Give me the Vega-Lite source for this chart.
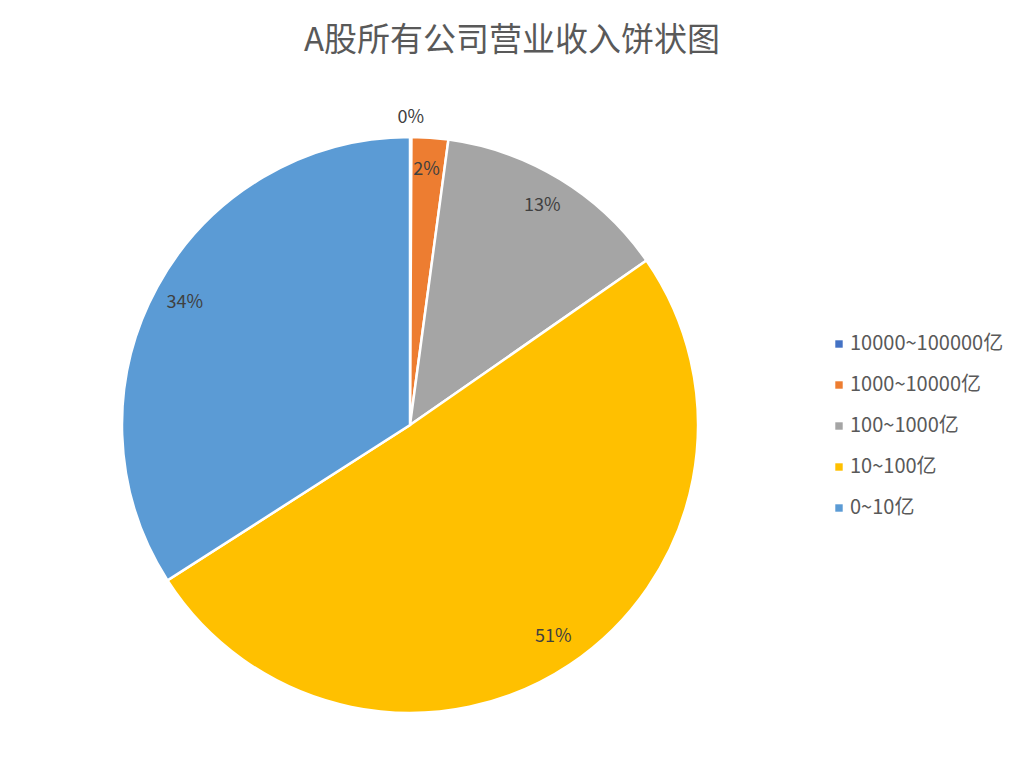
{
  "$schema": "https://vega.github.io/schema/vega-lite/v6.json",
  "width": 820,
  "height": 690,
  "autosize": {"type": "none"},
  "padding": {"left": 0, "top": 80, "right": 204, "bottom": 13},
  "background": "white",
  "title": {
    "text": "A股所有公司营业收入饼状图",
    "font": "Noto Sans CJK SC",
    "fontSize": 33,
    "fontWeight": "normal",
    "color": "#595959",
    "anchor": "middle",
    "dx": 102,
    "offset": 22
  },
  "data": {
    "values": [
      {"idx": 1, "range": "10000~100000亿", "share": 0.0008},
      {"idx": 2, "range": "1000~10000亿", "share": 0.0205},
      {"idx": 3, "range": "100~1000亿", "share": 0.1320},
      {"idx": 4, "range": "10~100亿", "share": 0.5060},
      {"idx": 5, "range": "0~10亿", "share": 0.3407}
    ]
  },
  "encoding": {
    "theta": {"field": "share", "type": "quantitative", "stack": true},
    "order": {"field": "idx", "type": "quantitative"}
  },
  "layer": [
    {
      "mark": {"type": "arc", "outerRadius": 288, "stroke": "white", "strokeWidth": 2.5},
      "encoding": {
        "color": {
          "field": "range",
          "type": "nominal",
          "scale": {
            "domain": ["10000~100000亿", "1000~10000亿", "100~1000亿", "10~100亿", "0~10亿"],
            "range": ["#4472C4", "#ED7D31", "#A5A5A5", "#FFC000", "#5B9BD5"]
          },
          "legend": {
            "title": null,
            "orient": "none",
            "legendX": 829,
            "legendY": 254,
            "symbolType": "square",
            "symbolSize": 55,
            "symbolStrokeWidth": 0,
            "labelFont": "Noto Sans CJK SC",
            "labelFontSize": 20,
            "labelColor": "#595959",
            "rowPadding": 21,
            "labelOffset": 1
          }
        }
      }
    },
    {
      "transform": [{"filter": "datum.idx > 1"}],
      "mark": {"type": "text", "radius": 256, "font": "Noto Sans CJK SC", "fontSize": 18, "color": "#404040"},
      "encoding": {
        "text": {"field": "share", "type": "quantitative", "format": ".0%"}
      }
    },
    {
      "transform": [{"filter": "datum.idx == 1"}],
      "mark": {"type": "text", "radius": 307, "font": "Noto Sans CJK SC", "fontSize": 18, "color": "#404040"},
      "encoding": {
        "text": {"field": "share", "type": "quantitative", "format": ".0%"}
      }
    }
  ]
}
